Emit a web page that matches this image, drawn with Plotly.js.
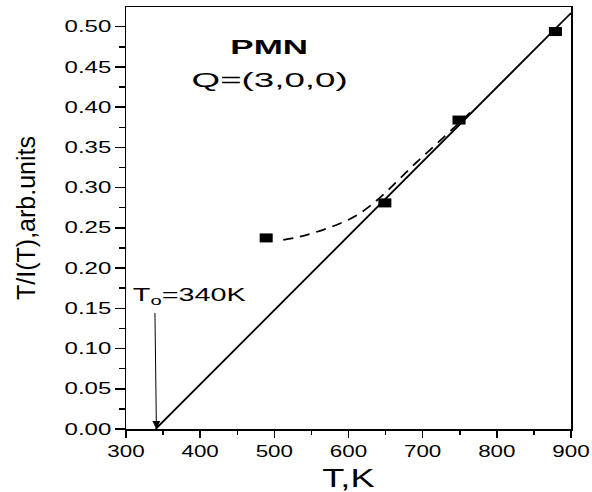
<!DOCTYPE html>
<html>
<head>
<meta charset="utf-8">
<script src="https://cdn.plot.ly/plotly-3.0.1.min.js"></script>
<style>
  html, body { margin: 0; padding: 0; background: #fff; }
  #chart { width: 592px; height: 492px; }
</style>
</head>
<body>
<div id="chart"></div>
<script>
// Measured points
const tempK = [489, 649, 749, 879];
const ratio = [0.2375, 0.281, 0.384, 0.494];

// Linear fit line (extrapolated to T0)
const fitT = [340, 900];
const fitR = [0.0, 0.517];

// Dashed guide curve
const curveT = [512, 530, 550, 570, 590, 610, 630, 650, 670, 690, 710, 730, 750, 765];
const curveR = [0.235, 0.238, 0.243, 0.249, 0.256, 0.265, 0.278, 0.294, 0.312, 0.330, 0.347, 0.364, 0.381, 0.394];

// Annotation texts / positions
const labelTitle = 'PMN';
const labelQ = 'Q=(3,0,0)';
const labelT0 = 'T<sub>o</sub>=340K';
const t0Value = 341;

const FONT = 'Liberation Sans, Arial, sans-serif';

const traces = [
  {
    x: fitT, y: fitR, type: 'scatter', mode: 'lines',
    line: {color: '#000', width: 1.8}, hoverinfo: 'skip'
  },
  {
    x: curveT, y: curveR, type: 'scatter', mode: 'lines',
    line: {color: '#000', width: 1.8, dash: '10px,7px', shape: 'spline'}, hoverinfo: 'skip'
  },
  {
    x: tempK, y: ratio, type: 'scatter', mode: 'markers',
    marker: {symbol: 'square', size: 9, color: '#000', line: {width: 0}}
  }
];

const axisCommon = {
  showgrid: false, zeroline: false,
  showline: true, linecolor: '#000', linewidth: 1.5, mirror: true,
  ticks: 'outside', tickcolor: '#000', tickwidth: 1.5,
  tickfont: {family: FONT, size: 16, color: '#000'}
};

const layout = {
  width: 592, height: 492,
  margin: {l: 126, r: 21, t: 7, b: 63},
  paper_bgcolor: '#fff', plot_bgcolor: '#fff',
  showlegend: false,
  font: {family: FONT, color: '#000'},
  xaxis: Object.assign({}, axisCommon, {
    range: [300, 900], tick0: 300, dtick: 100, ticklen: 7,
    minor: {dtick: 50, ticks: 'outside', ticklen: 4, tickwidth: 1.5, tickcolor: '#000', showgrid: false},
    title: {text: 'T,K', font: {family: FONT, size: 25, color: '#000'}, standoff: 12}
  }),
  yaxis: Object.assign({}, axisCommon, {
    range: [0, 0.5245], tick0: 0, dtick: 0.05, tickformat: '.2f', ticklen: 10,
    minor: {dtick: 0.025, ticks: 'outside', ticklen: 6, tickwidth: 1.5, tickcolor: '#000', showgrid: false},
    title: {text: 'T/I(T),arb.units', font: {family: FONT, size: 25, color: '#000'}, standoff: 37}
  }),
  annotations: [
    {x: 493, y: 0.4745, xref: 'x', yref: 'y', text: '<b>' + labelTitle + '</b>', showarrow: false,
     font: {family: FONT, size: 20, color: '#000'}, xanchor: 'center', yanchor: 'middle'},
    {x: 493, y: 0.4347, xref: 'x', yref: 'y', text: labelQ, showarrow: false,
     font: {family: FONT, size: 21, color: '#000'}, xanchor: 'center', yanchor: 'middle'},
    {x: 385, y: 0.165, xref: 'x', yref: 'y', text: labelT0, showarrow: false,
     font: {family: FONT, size: 18, color: '#000'}, xanchor: 'center', yanchor: 'middle'},
    {x: t0Value, y: 0, xref: 'x', yref: 'y', ax: 339, ay: 0.146, axref: 'x', ayref: 'y',
     text: '', showarrow: true, arrowhead: 2, arrowsize: 1.6, arrowwidth: 1, arrowcolor: '#000'}
  ]
};

function stretch(sel, s, anchor) {
  document.querySelectorAll(sel).forEach(t => {
    const bb = t.getBBox();
    if (!bb.width) return;
    const ax = anchor === 'end' ? bb.x + bb.width : (anchor === 'start' ? bb.x : bb.x + bb.width / 2);
    let prev = t.getAttribute('data-prevt');
    if (prev === null) { prev = t.getAttribute('transform') || ''; t.setAttribute('data-prevt', prev); }
    t.setAttribute('transform', prev + ' translate(' + ax + ',0) scale(' + s + ',1) translate(' + (-ax) + ',0)');
  });
}

Plotly.newPlot('chart', traces, layout, {displayModeBar: false, staticPlot: true}).then(() => {
  stretch('.ytick text', 1.5, 'end');
  stretch('.xtick text', 1.4, 'middle');
  stretch('.xtitle', 1.45, 'middle');
  const ann = document.querySelectorAll('.annotation-text');
  const scales = [1.75, 1.75, 1.6];
  ann.forEach((t, i) => {
    if (i < scales.length) {
      const bb = t.getBBox();
      if (!bb.width) return;
      const ax = bb.x + bb.width / 2;
      const prev = t.getAttribute('transform') || '';
      t.setAttribute('transform', prev + ' translate(' + ax + ',0) scale(' + scales[i] + ',1) translate(' + (-ax) + ',0)');
    }
  });
  document.querySelectorAll('.scatterlayer .points path').forEach(p => {
    const prev = p.getAttribute('transform') || '';
    p.setAttribute('transform', prev + ' scale(1.45,1)');
  });
});
</script>
</body>
</html>
